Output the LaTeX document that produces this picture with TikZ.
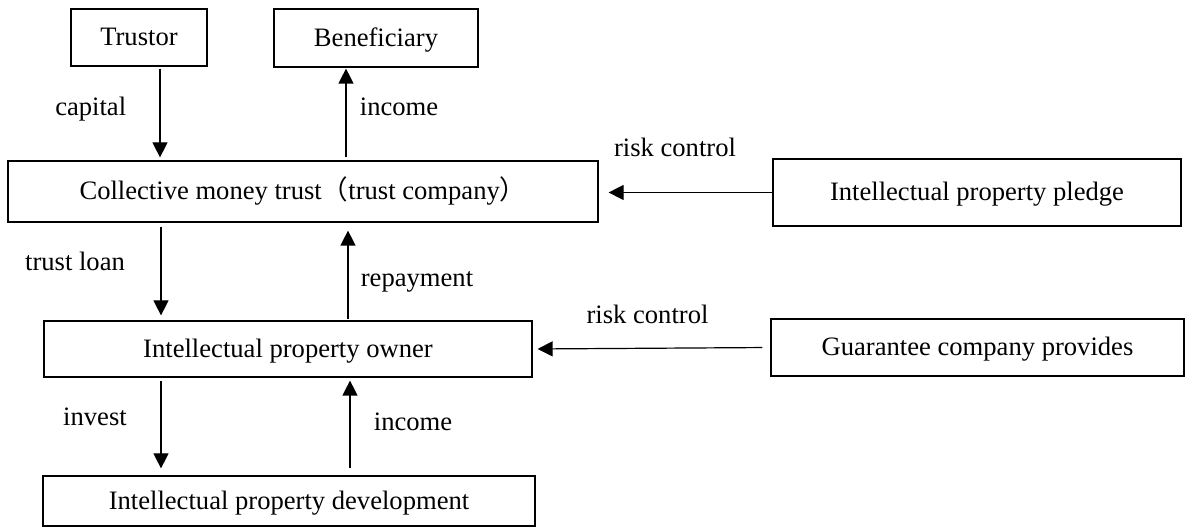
\documentclass[tikz,border=0pt]{standalone}
\usepackage{fontspec}
\setmainfont{Liberation Serif}
\newfontfamily\cjk{Noto Sans CJK SC}
\usetikzlibrary{arrows.meta}
\tikzset{every picture/.style={line width=0.6pt}}
\tikzstyle{box}=[draw,rectangle,inner sep=0pt,text height=8.5pt,text depth=0pt]
\tikzstyle{lbl}=[text height=8.5pt,text depth=0pt]

\begin{document}
\begin{tikzpicture}[x=0.5pt,y=-0.5pt,font=\fontsize{13.3}{16}\selectfont]
\useasboundingbox (0,0) rectangle (1189,528);
\node[box,minimum width=68pt,minimum height=28.5pt] (T) at (139,37.5) {Trustor};
\node[box,minimum width=102pt,minimum height=29pt] (B) at (376,38) {Beneficiary};
\node[box,minimum width=295pt,minimum height=30.5pt] (C) at (303,191.5) {Collective money trust{\cjk （}trust company{\cjk ）}};
\node[box,minimum width=204pt,minimum height=33.5pt] (P) at (977,192.5) {Intellectual property pledge};
\node[box,minimum width=244pt,minimum height=28pt] (O) at (288,349) {Intellectual property owner};
\node[box,minimum width=206.5pt,minimum height=28.5pt] (G) at (977.5,347.5) {Guarantee company provides};
\node[box,minimum width=246pt,minimum height=25pt] (D) at (289,501) {Intellectual property development};
\node[lbl] (cap) at (90.7,107) {capital};
\node[lbl] (inc) at (399,107) {income};
\node[lbl] (rc1) at (675,148) {risk control};
\node[lbl] (tl) at (75,262) {trust loan};
\node[lbl] (rep) at (417,278) {repayment};
\node[lbl] (rc2) at (647.5,315) {risk control};
\node[lbl] (inv) at (95,417) {invest};
\node[lbl] (inc2) at (413,422) {income};
\path[->,>={Triangle[length=7.5pt,width=7.5pt]}]
([xshift=10.5pt]T.south) edge [shorten <=1pt,shorten >=1.5pt] ([xshift=-71.5pt]C.north)
([xshift=21.5pt]C.north) edge [shorten <=1.5pt,shorten >=0.5pt] ([xshift=-15pt]B.south)
([xshift=-71pt]C.south) edge [shorten <=2pt,shorten >=2.5pt] ([xshift=-63.5pt]O.north)
([xshift=30pt]O.north) edge [shorten <=0.5pt,shorten >=4pt] ([xshift=22.5pt]C.south)
([xshift=-63.5pt]O.south) edge [shorten <=1.5pt,shorten >=3.5pt] ([xshift=-64pt]D.north)
([xshift=30.5pt]D.north) edge [shorten <=3.5pt,shorten >=1.5pt] ([xshift=31pt]O.south)
(P.west) edge [shorten >=5pt] (P.west -| C.east)
(G.west) edge [shorten <=4pt,shorten >=2.5pt] (O.east);
\end{tikzpicture}
\end{document}
